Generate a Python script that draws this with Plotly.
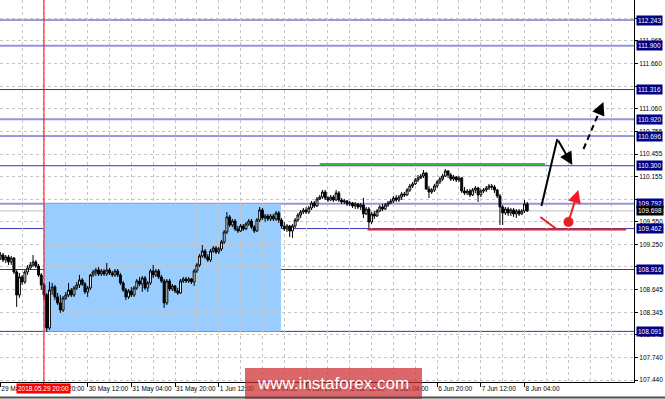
import plotly.graph_objects as go

# ---------------- data (H1 candles, 29 May 04:00 .. 8 Jun 05:00) ----------------
opens = [
    109.070, 109.110, 109.043, 109.083, 109.017, 109.070, 108.883, 108.577, 108.817, 108.750,
    108.883, 108.937, 108.977, 109.017, 108.963, 108.843, 108.710, 108.577, 108.137, 108.643,
    108.683, 108.550, 108.470, 108.377, 108.537, 108.577, 108.643, 108.577, 108.670, 108.710,
    108.777, 108.723, 108.617, 108.670, 108.843, 108.883, 108.910, 108.857, 108.897, 108.857,
    108.910, 108.870, 108.843, 108.897, 108.843, 108.737, 108.643, 108.550, 108.630, 108.577,
    108.670, 108.763, 108.723, 108.803, 108.670, 108.737, 108.897, 108.843, 108.897, 108.817,
    108.763, 108.470, 108.763, 108.657, 108.697, 108.630, 108.603, 108.763, 108.790, 108.763,
    108.790, 108.750, 108.897, 108.977, 109.097, 109.163, 109.083, 109.043, 109.163, 109.203,
    109.150, 109.190, 109.283, 109.417, 109.617, 109.510, 109.563, 109.457, 109.430, 109.497,
    109.457, 109.523, 109.563, 109.483, 109.430, 109.577, 109.710, 109.603, 109.630, 109.590,
    109.630, 109.590, 109.670, 109.577, 109.497, 109.457, 109.497, 109.430, 109.497, 109.577,
    109.643, 109.683, 109.710, 109.683, 109.737, 109.803, 109.763, 109.857, 109.883, 109.950,
    109.870, 109.843, 109.883, 109.843, 109.937, 109.843, 109.817, 109.830, 109.790, 109.803,
    109.763, 109.790, 109.750, 109.777, 109.657, 109.723, 109.550, 109.657, 109.630, 109.697,
    109.750, 109.723, 109.777, 109.803, 109.830, 109.870, 109.843, 109.883, 109.923, 109.910,
    109.977, 110.030, 110.057, 110.110, 110.137, 110.163, 110.203, 109.990, 109.950, 109.977,
    110.030, 110.083, 110.123, 110.163, 110.230, 110.177, 110.123, 110.150, 110.110, 110.137,
    109.963, 109.937, 109.963, 109.910, 109.977, 110.003, 109.910, 109.963, 109.977, 110.003,
    110.030, 110.017, 109.977, 109.897, 109.750, 109.670, 109.723, 109.670, 109.710, 109.657,
    109.697, 109.657, 109.697, 109.790,
]
closes = [
    109.110, 109.043, 109.083, 109.017, 109.070, 108.883, 108.577, 108.817, 108.750, 108.883,
    108.937, 108.977, 109.017, 108.963, 108.843, 108.710, 108.577, 108.137, 108.643, 108.683,
    108.550, 108.470, 108.377, 108.537, 108.577, 108.643, 108.577, 108.670, 108.710, 108.777,
    108.723, 108.617, 108.670, 108.843, 108.883, 108.910, 108.857, 108.897, 108.857, 108.910,
    108.870, 108.843, 108.897, 108.843, 108.737, 108.643, 108.550, 108.630, 108.577, 108.670,
    108.763, 108.723, 108.803, 108.670, 108.737, 108.897, 108.843, 108.897, 108.817, 108.763,
    108.470, 108.763, 108.657, 108.697, 108.630, 108.603, 108.763, 108.790, 108.763, 108.790,
    108.750, 108.897, 108.977, 109.097, 109.163, 109.083, 109.043, 109.163, 109.203, 109.150,
    109.190, 109.283, 109.417, 109.617, 109.510, 109.563, 109.457, 109.430, 109.497, 109.457,
    109.523, 109.563, 109.483, 109.430, 109.577, 109.710, 109.603, 109.630, 109.590, 109.630,
    109.590, 109.670, 109.577, 109.497, 109.457, 109.497, 109.430, 109.497, 109.577, 109.643,
    109.683, 109.710, 109.683, 109.737, 109.803, 109.763, 109.857, 109.883, 109.950, 109.870,
    109.843, 109.883, 109.843, 109.937, 109.843, 109.817, 109.830, 109.790, 109.803, 109.763,
    109.790, 109.750, 109.777, 109.657, 109.723, 109.550, 109.657, 109.630, 109.697, 109.750,
    109.723, 109.777, 109.803, 109.830, 109.870, 109.843, 109.883, 109.923, 109.910, 109.977,
    110.030, 110.057, 110.110, 110.137, 110.163, 110.203, 109.990, 109.950, 109.977, 110.030,
    110.083, 110.123, 110.163, 110.230, 110.177, 110.123, 110.150, 110.110, 110.137, 109.963,
    109.937, 109.963, 109.910, 109.977, 110.003, 109.910, 109.963, 109.977, 110.003, 110.030,
    110.017, 109.977, 109.897, 109.750, 109.670, 109.723, 109.670, 109.710, 109.657, 109.697,
    109.657, 109.697, 109.790, 109.698,
]
highs = [
    109.150, 109.137, 109.110, 109.110, 109.097, 109.083, 108.910, 108.870, 108.843, 108.910,
    108.977, 109.017, 109.110, 109.043, 108.990, 108.870, 108.737, 108.603, 108.750, 108.737,
    108.710, 108.603, 108.577, 108.563, 108.617, 108.737, 108.670, 108.697, 108.750, 108.843,
    108.803, 108.750, 108.697, 108.857, 108.910, 108.937, 108.950, 108.923, 108.923, 109.003,
    108.937, 108.897, 108.923, 108.923, 108.870, 108.763, 108.670, 108.657, 108.683, 108.697,
    108.790, 108.817, 108.830, 108.830, 108.763, 108.923, 108.977, 108.923, 108.923, 108.843,
    108.790, 108.790, 108.790, 108.723, 108.710, 108.670, 108.790, 108.817, 108.817, 108.817,
    108.803, 108.923, 109.003, 109.123, 109.243, 109.190, 109.123, 109.190, 109.230, 109.230,
    109.217, 109.310, 109.443, 109.683, 109.643, 109.590, 109.590, 109.497, 109.523, 109.523,
    109.550, 109.590, 109.590, 109.510, 109.603, 109.750, 109.737, 109.657, 109.657, 109.657,
    109.657, 109.697, 109.697, 109.603, 109.550, 109.523, 109.510, 109.523, 109.603, 109.670,
    109.710, 109.737, 109.750, 109.763, 109.830, 109.830, 109.883, 109.910, 109.977, 109.977,
    109.897, 109.910, 109.910, 109.977, 109.963, 109.870, 109.857, 109.843, 109.830, 109.817,
    109.817, 109.803, 109.803, 109.870, 109.750, 109.750, 109.683, 109.697, 109.723, 109.777,
    109.790, 109.803, 109.830, 109.857, 109.897, 109.910, 109.910, 109.950, 109.950, 110.003,
    110.057, 110.083, 110.137, 110.177, 110.190, 110.243, 110.217, 110.030, 110.003, 110.057,
    110.110, 110.150, 110.190, 110.257, 110.243, 110.203, 110.177, 110.163, 110.163, 110.150,
    110.017, 109.990, 109.990, 110.003, 110.030, 110.017, 109.990, 110.003, 110.030, 110.057,
    110.057, 110.043, 109.990, 109.923, 109.777, 109.750, 109.750, 109.737, 109.737, 109.723,
    109.723, 109.723, 109.843, 109.817,
]
lows = [
    109.043, 109.017, 109.003, 108.977, 108.977, 108.857, 108.417, 108.537, 108.710, 108.723,
    108.843, 108.910, 108.950, 108.937, 108.817, 108.643, 108.510, 108.083, 108.110, 108.577,
    108.510, 108.443, 108.337, 108.350, 108.510, 108.550, 108.550, 108.550, 108.643, 108.670,
    108.697, 108.590, 108.550, 108.643, 108.817, 108.830, 108.830, 108.830, 108.830, 108.830,
    108.843, 108.817, 108.817, 108.817, 108.710, 108.617, 108.510, 108.523, 108.550, 108.550,
    108.643, 108.697, 108.617, 108.643, 108.617, 108.710, 108.803, 108.817, 108.790, 108.737,
    108.403, 108.443, 108.630, 108.630, 108.603, 108.577, 108.590, 108.737, 108.737, 108.737,
    108.723, 108.697, 108.870, 108.950, 109.070, 109.057, 109.017, 109.017, 109.137, 109.123,
    109.123, 109.163, 109.257, 109.390, 109.483, 109.483, 109.430, 109.403, 109.417, 109.430,
    109.443, 109.497, 109.457, 109.403, 109.417, 109.550, 109.577, 109.550, 109.563, 109.563,
    109.563, 109.563, 109.537, 109.470, 109.430, 109.417, 109.350, 109.337, 109.470, 109.550,
    109.603, 109.657, 109.657, 109.657, 109.710, 109.737, 109.750, 109.843, 109.857, 109.843,
    109.817, 109.830, 109.817, 109.830, 109.817, 109.790, 109.790, 109.763, 109.763, 109.737,
    109.723, 109.723, 109.710, 109.603, 109.643, 109.470, 109.523, 109.590, 109.617, 109.683,
    109.697, 109.710, 109.750, 109.790, 109.803, 109.817, 109.817, 109.843, 109.883, 109.897,
    109.950, 110.003, 110.043, 110.083, 110.123, 110.137, 109.977, 109.870, 109.923, 109.950,
    110.003, 110.057, 110.097, 110.150, 110.137, 110.097, 110.097, 110.083, 110.083, 109.937,
    109.910, 109.910, 109.883, 109.897, 109.937, 109.817, 109.883, 109.937, 109.950, 109.977,
    109.977, 109.937, 109.870, 109.510, 109.510, 109.643, 109.630, 109.630, 109.617, 109.603,
    109.630, 109.643, 109.670, 109.683,
]
bar_index = list(range(len(closes)))

time_tick_index = [0, 16, 32, 48, 64, 80, 96, 112, 128, 144, 160, 176, 192]
time_tick_text = ["29 May 04:00", "29 May 20:00", "30 May 12:00", "31 May 04:00",
                  "31 May 20:00", "1 Jun 12:00", "4 Jun 04:00", "4 Jun 20:00",
                  "5 Jun 12:00", "6 Jun 04:00", "6 Jun 20:00", "7 Jun 12:00",
                  "8 Jun 04:00"]

# price grid; labels fully covered by level boxes in the reference are left blank
price_ticks = [107.440, 107.740, 108.045, 108.345, 108.645, 108.950, 109.250,
               109.550, 109.855, 110.155, 110.455, 110.755, 111.060, 111.360,
               111.660, 111.965, 112.265]
price_tick_text = ["107.440", "107.740", "108.045", "108.345", "108.645", "",
                   "109.250", "109.550", "", "110.155", "110.455", "110.755",
                   "111.060", "", "111.660", "111.965", ""]

levels_dark = [112.243, 111.316, 110.696, 110.300, 109.462, 108.916, 108.091]
levels_light = [111.900, 110.920, 109.792]
bid_price = 109.698

cursor_index = 16
cursor_label = "2018.05.29 20:00"

zone_x = [16, 102.8]
zone_y = [108.091, 109.792]

green_line = dict(x=[117, 199.5], y=[110.323, 110.323])
red_line = dict(x=[134.5, 229.2], y=[109.450, 109.450])
red_short = dict(x=[197.8, 203.7], y=[109.616, 109.456])
red_dot = dict(x=[208.1], y=[109.550])
red_arrow = dict(x=[208.1, 211.7], y=[109.550, 109.976])
black_path = dict(x=[198.2, 204.0, 209.5], y=[109.763, 110.656, 110.310])
black_dash = dict(x=[213.6, 220.9], y=[110.523, 111.150])

watermark = "www.instaforex.com"

FONT = "Liberation Sans, Arial, sans-serif"
NAVY = "#000080"
DARK_LINE = "#3535b8"
LIGHT_LINE = "#9494dc"
GRID = "#c6c6c6"

fig = go.Figure()

fig.add_trace(go.Candlestick(
    x=bar_index, open=opens, high=highs, low=lows, close=closes,
    increasing=dict(line=dict(color="black", width=1), fillcolor="white"),
    decreasing=dict(line=dict(color="black", width=1), fillcolor="black"),
    whiskerwidth=0, hoverinfo="skip", showlegend=False,
))

shapes = []
shapes.append(dict(type="rect", xref="x", yref="y", x0=zone_x[0], x1=zone_x[1],
                   y0=zone_y[0], y1=zone_y[1], fillcolor="#99ccff",
                   line=dict(width=0), layer="below"))
shapes.append(dict(type="line", xref="paper", yref="y", x0=0, x1=1,
                   y0=bid_price, y1=bid_price, line=dict(color="#c0c0c0", width=1),
                   layer="between"))
for lv in levels_light:
    shapes.append(dict(type="line", xref="paper", yref="y", x0=0, x1=1, y0=lv, y1=lv,
                       line=dict(color=LIGHT_LINE, width=2), layer="between"))
for lv in levels_dark:
    shapes.append(dict(type="line", xref="paper", yref="y", x0=0, x1=1, y0=lv, y1=lv,
                       line=dict(color=DARK_LINE, width=1), layer="between"))
shapes.append(dict(type="line", xref="x", yref="paper", x0=cursor_index, x1=cursor_index,
                   y0=0, y1=1, line=dict(color="#ff0000", width=1), layer="above"))
shapes.append(dict(type="line", xref="x", yref="y", x0=green_line["x"][0], x1=green_line["x"][1],
                   y0=green_line["y"][0], y1=green_line["y"][1],
                   line=dict(color="#3cb84a", width=2), layer="above"))
shapes.append(dict(type="line", xref="x", yref="y", x0=red_line["x"][0], x1=red_line["x"][1],
                   y0=red_line["y"][0], y1=red_line["y"][1],
                   line=dict(color="#ee1c24", width=2), layer="above"))
shapes.append(dict(type="line", xref="x", yref="y", x0=red_short["x"][0], x1=red_short["x"][1],
                   y0=red_short["y"][0], y1=red_short["y"][1],
                   line=dict(color="#ee1c24", width=2), layer="above"))
shapes.append(dict(type="line", xref="x", yref="y", x0=black_path["x"][0], x1=black_path["x"][1],
                   y0=black_path["y"][0], y1=black_path["y"][1],
                   line=dict(color="black", width=2), layer="above"))
dx = black_dash["x"][1] - black_dash["x"][0]
dy = black_dash["y"][1] - black_dash["y"][0]
shapes.append(dict(type="line", xref="x", yref="y", x0=black_dash["x"][0],
                   x1=black_dash["x"][0] + dx * 0.8,
                   y0=black_dash["y"][0], y1=black_dash["y"][0] + dy * 0.8,
                   line=dict(color="black", width=2, dash="6px,4px"), layer="above"))
shapes.append(dict(type="rect", xref="paper", yref="paper", x0=0.3864, x1=0.6656,
                   y0=-0.0445, y1=0.0366, fillcolor="rgba(205,45,50,0.72)",
                   line=dict(width=0), layer="above"))
shapes.append(dict(type="line", xref="paper", yref="paper", x0=0, x1=1.06,
                   y0=-0.0405, y1=-0.0405, line=dict(color="#505050", width=2)))

fig.add_trace(go.Scatter(x=red_dot["x"], y=red_dot["y"], mode="markers",
                         marker=dict(color="#ee1c24", size=10), showlegend=False,
                         hoverinfo="skip"))

annotations = []
annotations.append(dict(x=black_path["x"][2], y=black_path["y"][2], ax=black_path["x"][1],
                        ay=black_path["y"][1], xref="x", yref="y", axref="x", ayref="y",
                        text="", showarrow=True, arrowhead=2, arrowsize=1.3,
                        arrowwidth=2, arrowcolor="black"))
annotations.append(dict(x=black_dash["x"][1], y=black_dash["y"][1],
                        ax=black_dash["x"][0] + dx * 0.78, ay=black_dash["y"][0] + dy * 0.78,
                        xref="x", yref="y", axref="x", ayref="y",
                        text="", showarrow=True, arrowhead=2, arrowsize=1.3,
                        arrowwidth=2, arrowcolor="black"))
annotations.append(dict(x=red_arrow["x"][1], y=red_arrow["y"][1], ax=red_arrow["x"][0],
                        ay=red_arrow["y"][0], xref="x", yref="y", axref="x", ayref="y",
                        text="", showarrow=True, arrowhead=2, arrowsize=1.3,
                        arrowwidth=2, arrowcolor="#ee1c24"))
for lv in levels_dark + levels_light:
    annotations.append(dict(x=1, y=lv, xref="paper", yref="y", xanchor="left",
                            yanchor="middle", xshift=2, text="%.3f" % lv, showarrow=False,
                            bgcolor=NAVY, borderpad=1,
                            font=dict(family=FONT, size=6.5, color="white")))
annotations.append(dict(x=1, y=bid_price, xref="paper", yref="y", xanchor="left",
                        yanchor="middle", xshift=2, text="%.3f" % bid_price,
                        showarrow=False, bgcolor="black", borderpad=1,
                        font=dict(family=FONT, size=6.5, color="white")))
annotations.append(dict(x=cursor_index, y=-0.018, xref="x", yref="paper", xanchor="center",
                        yanchor="middle", text=cursor_label, showarrow=False,
                        bgcolor="#ff0000", borderpad=1,
                        font=dict(family=FONT, size=6.5, color="white")))
annotations.append(dict(x=0.526, y=-0.004, xref="paper", yref="paper", xanchor="center",
                        yanchor="middle", text=watermark, showarrow=False,
                        font=dict(family=FONT, size=17, color="white")))

fig.update_layout(
    width=665, height=399,
    margin=dict(l=0, r=31, t=0, b=17, autoexpand=False),
    paper_bgcolor="white", plot_bgcolor="white",
    shapes=shapes, annotations=annotations,
    showlegend=False, boxgap=0.0,
    font=dict(family=FONT, size=6.5, color="black"),
    xaxis=dict(
        range=[-0.11, 232.1], automargin=False,
        tickmode="array", tickvals=time_tick_index, ticktext=time_tick_text,
        ticklabelposition="outside right", tickangle=0,
        ticks="outside", ticklen=4, tickcolor="black",
        showgrid=True, gridcolor=GRID, griddash="3px,3px", gridwidth=1,
        minor=dict(tickmode="linear", tick0=0, dtick=8, showgrid=True,
                   gridcolor=GRID, griddash="3px,3px", ticks=""),
        showline=True, linecolor="black", linewidth=1,
        zeroline=False, rangeslider=dict(visible=False),
        tickfont=dict(family=FONT, size=6.5, color="black"),
    ),
    yaxis=dict(
        side="right", range=[107.416, 112.510], automargin=False,
        tickmode="array", tickvals=price_ticks, ticktext=price_tick_text,
        ticks="outside", ticklen=3, tickcolor="black",
        showgrid=True, gridcolor=GRID, griddash="3px,3px", gridwidth=1,
        showline=True, linecolor="black", linewidth=1, zeroline=False,
        tickfont=dict(family=FONT, size=6.5, color="black"),
    ),
)

fig.write_html("out.html")
